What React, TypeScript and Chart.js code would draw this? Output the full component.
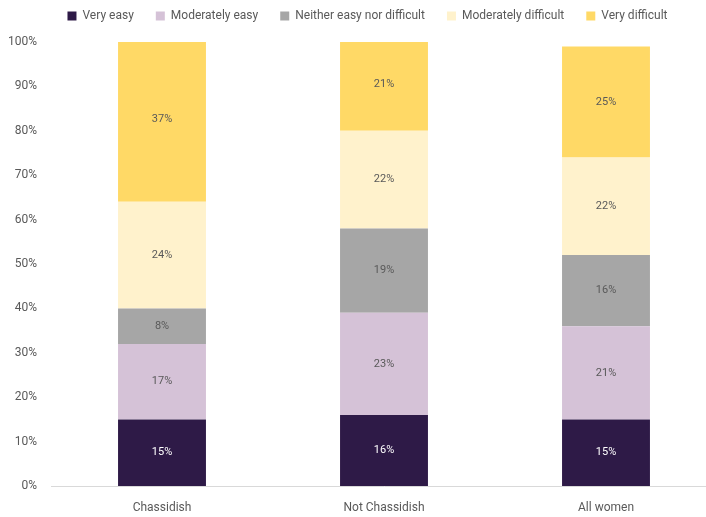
import React, { useEffect, useRef } from "react";
import { Chart, registerables } from "chart.js";

Chart.register(...registerables);

const categories = ["Chassidish", "Not Chassidish", "All women"];
const seriesNames = [
  "Very easy",
  "Moderately easy",
  "Neither easy nor difficult",
  "Moderately difficult",
  "Very difficult",
];
const veryEasy = [15, 16, 15];
const moderatelyEasy = [17, 23, 21];
const neither = [8, 19, 16];
const moderatelyDifficult = [24, 22, 22];
const veryDifficult = [37, 21, 25];
const yTicks = [0, 10, 20, 30, 40, 50, 60, 70, 80, 90, 100];

const colors = ["#2e1a47", "#d5c2d7", "#a6a6a6", "#fff2cc", "#ffd966"];
const labelColors = ["#ffffff", "#595959", "#595959", "#595959", "#595959"];
const FONT = "Roboto";
const TEXT = "#595959";

const valueLabels = {
  id: "valueLabels",
  afterDatasetsDraw(chart: any) {
    const ctx = chart.ctx;
    ctx.save();
    ctx.font = `11px ${FONT}`;
    ctx.textAlign = "center";
    ctx.textBaseline = "middle";
    chart.data.datasets.forEach((ds: any, i: number) => {
      const meta = chart.getDatasetMeta(i);
      meta.data.forEach((el: any, j: number) => {
        const v = ds.data[j];
        ctx.fillStyle = labelColors[i];
        ctx.fillText(`${v}%`, el.x, (el.y + el.base) / 2);
      });
    });
    ctx.restore();
  },
};

const legendSpacer = {
  id: "legendSpacer",
  beforeLayout(chart: any) {
    const lg = chart.legend;
    if (lg && !lg.__patched) {
      const orig = lg.fit;
      lg.fit = function (this: any) {
        orig.call(this);
        this.height = 54;
      };
      lg.__patched = true;
    }
  },
  afterLayout(chart: any) {
    const lg = chart.legend;
    if (lg) {
      lg.left += 9;
      lg.right += 9;
    }
  },
};

export default function App() {
  const ref = useRef<HTMLCanvasElement | null>(null);
  useEffect(() => {
    if (!ref.current) return;
    const all = [veryEasy, moderatelyEasy, neither, moderatelyDifficult, veryDifficult];
    const chart = new Chart(ref.current, {
      type: "bar",
      data: {
        labels: categories,
        datasets: all.map((d, i) => ({
          label: seriesNames[i],
          data: d,
          backgroundColor: colors[i],
          borderWidth: 0,
          categoryPercentage: 1,
          barPercentage: 0.396,
        })),
      },
      options: {
        animation: false,
        responsive: false,
        maintainAspectRatio: false,
        layout: { padding: { left: 0, right: 18, top: -12, bottom: 0 } },
        plugins: {
          tooltip: { enabled: false },
          legend: {
            position: "top",
            labels: {
              boxWidth: 9,
              boxHeight: 9,
              padding: 22,
              color: TEXT,
              font: { family: FONT, size: 12 },
            },
          },
        },
        scales: {
          x: {
            stacked: true,
            grid: { display: false },
            border: { display: true, color: "#d9d9d9" },
            ticks: { color: TEXT, font: { family: FONT, size: 12 }, padding: 7 },
            afterFit: (s: any) => {
              s.height = 31;
            },
          },
          y: {
            stacked: true,
            min: 0,
            max: 100,
            grid: { display: false, drawTicks: false },
            border: { display: false },
            afterBuildTicks: (s: any) => {
              s.ticks = yTicks.map((v) => ({ value: v }));
            },
            ticks: {
              color: TEXT,
              font: { family: FONT, size: 12 },
              padding: 14,
              callback: (v: any) => `${v}%`,
            },
            afterFit: (s: any) => {
              s.width = 51;
            },
          },
        },
      },
      plugins: [legendSpacer, valueLabels],
    });
    return () => chart.destroy();
  }, []);
  return (
    <div style={{ position: "fixed", left: 0, top: 0, width: 706, height: 517, overflow: "hidden", background: "#fff" }}>
      <canvas ref={ref} width={735} height={517} style={{ display: "block" }} />
    </div>
  );
}
